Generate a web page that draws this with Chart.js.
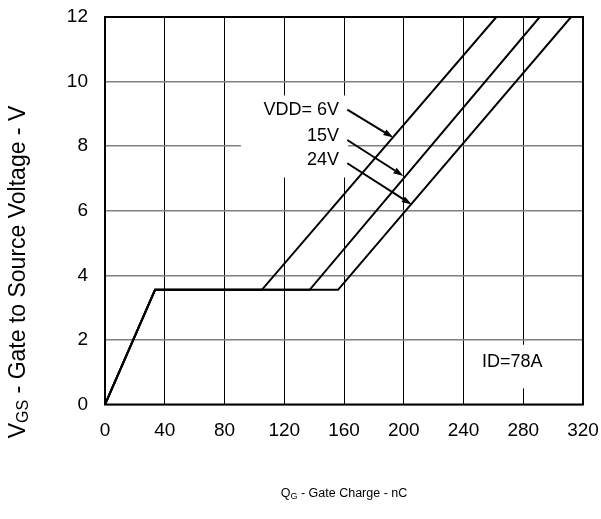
<!DOCTYPE html>
<html>
<head>
<meta charset="utf-8">
<script src="https://cdn.jsdelivr.net/npm/chart.js@4.4.1/dist/chart.umd.min.js"></script>
<style>
  html, body { margin: 0; padding: 0; background: #fff; }
  #wrap { width: 601px; height: 519px; }
</style>
</head>
<body>
<div id="wrap"><canvas id="gate-chart"></canvas></div>
<script>
// Gate charge curves, Qg (nC) vs Vgs (V)
var qg6V  = [0, 33.5, 105, 262];
var qg15V = [0, 33.5, 137, 291];
var qg24V = [0, 33.5, 156, 312];
var vgsCurve = [0, 3.55, 3.55, 12];

var xTicks = [0, 40, 80, 120, 160, 200, 240, 280, 320];
var yTicks = [0, 2, 4, 6, 8, 10, 12];

// annotation text and arrows (data units)
var vddLabels = ['VDD= 6V', '15V', '24V'];
var vddLabelQ = 156.6;
var vddLabelV = [9.13, 8.30, 7.56];
var arrowFromQ = 162.2;
var arrowFromV = [9.13, 8.19, 7.47];
var arrowToQ = [193.0, 199.7, 205.3];
var arrowToV = [8.27, 7.08, 6.19];
var idLabel = 'ID=78A';
var idLabelQ = 272.7;
var idLabelV = 1.3;

(function () {
  'use strict';

  var FONT = '"Liberation Sans", Arial, sans-serif';

  function pts(xs, ys) {
    return xs.map(function (x, i) { return { x: x, y: ys[i] }; });
  }

  function lineSet(xs) {
    return {
      data: pts(xs, vgsCurve),
      borderColor: '#000',
      borderWidth: 2,
      pointRadius: 0,
      tension: 0,
      fill: false
    };
  }

  // draws text with subscript parts, centred on x
  function drawRich(ctx, parts, x, y, size) {
    var subSize = Math.round(size * 0.68);
    var w = 0;
    parts.forEach(function (p) {
      ctx.font = (p.sub ? subSize : size) + 'px ' + FONT;
      p.w = ctx.measureText(p.t).width;
      w += p.w;
    });
    var cx = x - w / 2;
    ctx.textAlign = 'left';
    ctx.textBaseline = 'alphabetic';
    parts.forEach(function (p) {
      ctx.font = (p.sub ? subSize : size) + 'px ' + FONT;
      ctx.fillText(p.t, cx, p.sub ? y + size * 0.12 : y);
      cx += p.w;
    });
  }

  function arrow(ctx, x1, y1, x2, y2) {
    var ang = Math.atan2(y2 - y1, x2 - x1);
    var len = 10, half = 3.2;
    var bx = x2 - len * Math.cos(ang), by = y2 - len * Math.sin(ang);
    ctx.beginPath();
    ctx.moveTo(x1, y1);
    ctx.lineTo(bx, by);
    ctx.stroke();
    ctx.beginPath();
    ctx.moveTo(x2, y2);
    ctx.lineTo(bx + half * Math.sin(ang), by - half * Math.cos(ang));
    ctx.lineTo(bx - half * Math.sin(ang), by + half * Math.cos(ang));
    ctx.closePath();
    ctx.fill();
  }

  // ── White label boxes under the annotations ──────────────────────────
  var boxPlugin = {
    id: 'boxes',
    beforeDatasetsDraw: function (chart) {
      var ctx = chart.ctx, x = chart.scales.x, y = chart.scales.y;
      ctx.save();
      ctx.fillStyle = '#fff';
      ctx.fillRect(x.getPixelForValue(91), y.getPixelForValue(9.57),
        x.getPixelForValue(162.7) - x.getPixelForValue(91),
        y.getPixelForValue(7.03) - y.getPixelForValue(9.57));
      ctx.fillRect(x.getPixelForValue(244), y.getPixelForValue(1.85),
        x.getPixelForValue(318) - x.getPixelForValue(244),
        y.getPixelForValue(0.5) - y.getPixelForValue(1.85));
      ctx.restore();
    }
  };

  // ── Frame, annotations and axis titles ───────────────────────────────
  var decoPlugin = {
    id: 'deco',
    afterDatasetsDraw: function (chart) {
      var ctx = chart.ctx, a = chart.chartArea;
      var x = chart.scales.x, y = chart.scales.y;
      ctx.save();

      ctx.strokeStyle = '#000';
      ctx.lineWidth = 2;
      ctx.strokeRect(a.left, a.top, a.right - a.left, a.bottom - a.top);

      ctx.fillStyle = '#000';
      ctx.font = '18px ' + FONT;
      ctx.textAlign = 'right';
      ctx.textBaseline = 'middle';
      vddLabels.forEach(function (t, i) {
        ctx.fillText(t, x.getPixelForValue(vddLabelQ), y.getPixelForValue(vddLabelV[i]));
      });
      ctx.textAlign = 'center';
      ctx.fillText(idLabel, x.getPixelForValue(idLabelQ), y.getPixelForValue(idLabelV));

      ctx.lineWidth = 2;
      arrowToQ.forEach(function (q, i) {
        arrow(ctx,
          x.getPixelForValue(arrowFromQ), y.getPixelForValue(arrowFromV[i]),
          x.getPixelForValue(q), y.getPixelForValue(arrowToV[i]));
      });

      // x title
      drawRich(ctx, [{ t: 'Q' }, { t: 'G', sub: true }, { t: ' - Gate Charge - nC' }],
        (a.left + a.right) / 2, 497, 12.5);

      // y title, rotated
      ctx.translate(25, 272);
      ctx.rotate(-Math.PI / 2);
      drawRich(ctx, [{ t: 'V' }, { t: 'GS', sub: true }, { t: ' - Gate to Source Voltage - V' }],
        0, 0, 23);
      ctx.restore();
    }
  };

  var canvas = document.getElementById('gate-chart');
  new Chart(canvas.getContext('2d'), {
    type: 'line',
    data: {
      datasets: [lineSet(qg6V), lineSet(qg15V), lineSet(qg24V)]
    },
    options: {
      responsive: true,
      maintainAspectRatio: false,
      animation: false,
      events: [],
      layout: { padding: { top: 17, right: 18, left: 0, bottom: 0 } },
      plugins: {
        legend: { display: false },
        tooltip: { enabled: false }
      },
      scales: {
        x: {
          type: 'linear',
          min: 0,
          max: 320,
          afterBuildTicks: function (s) { s.ticks = xTicks.map(function (v) { return { value: v }; }); },
          afterFit: function (s) { s.height = 114.5; s.paddingLeft = 0; s.paddingRight = 0; },
          grid: { color: '#000', lineWidth: 1, drawTicks: false },
          border: { display: false },
          ticks: { color: '#000', padding: 15, maxRotation: 0, font: { family: FONT, size: 19 } }
        },
        y: {
          min: 0,
          max: 12,
          afterBuildTicks: function (s) { s.ticks = yTicks.map(function (v) { return { value: v }; }); },
          afterFit: function (s) { s.width = 105; s.paddingTop = 0; s.paddingBottom = 0; },
          grid: { color: '#808080', lineWidth: 1.6, drawTicks: false },
          border: { display: false },
          ticks: { color: '#000', padding: 17, font: { family: FONT, size: 19 } }
        }
      }
    },
    plugins: [boxPlugin, decoPlugin]
  });
})();
</script>
</body>
</html>
